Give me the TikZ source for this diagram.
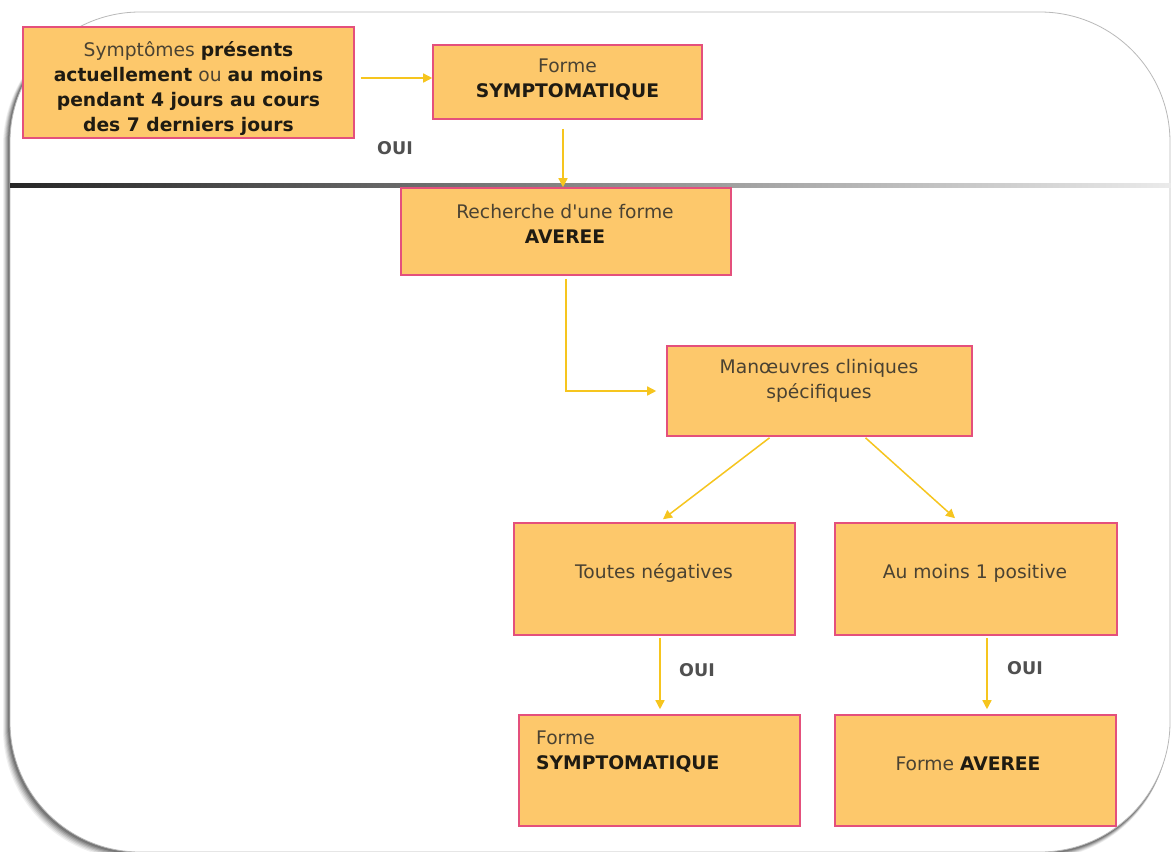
\documentclass[tikz,border=0pt]{standalone}
\usepackage{fontspec}
\setmainfont{DejaVu Sans}
\font\aposf="DejaVu Sans" at 18.7pt
\usetikzlibrary{arrows.meta,calc}
\definecolor{boxfill}{HTML}{FDC86B}
\definecolor{boxline}{HTML}{E4507C}
\definecolor{arrowc}{HTML}{F6C51E}
\definecolor{txt}{HTML}{4A4232}
\definecolor{btxt}{HTML}{1F1B12}
\definecolor{ouic}{HTML}{505050}
\newcommand\bb[1]{\textbf{\color{btxt}#1}}
\tikzset{
  box/.style={draw=boxline, fill=boxfill, line width=1.6pt, inner sep=0pt},
  lbl/.style={text=txt, font=\fontsize{18.7}{25}\selectfont, align=center, inner sep=0pt},
  oui/.style={text=ouic, font=\fontsize{17.5}{20}\selectfont\bfseries, inner sep=0pt},
  arr/.style={draw=arrowc, line width=1.5pt, -{Triangle[length=9pt,width=9pt]}},
}
\begin{document}
\begin{tikzpicture}[x=1pt,y=-1pt]
\useasboundingbox (0,0) rectangle (1171,852);
\clip (0,0) rectangle (1171,852);
\fill[white] (0,0) rectangle (1171,852);
% frame shadow
\foreach \d/\o in {7/0.06,6/0.08,5/0.10,4/0.12,3/0.15,2/0.18}{
  \fill[black, opacity=\o, rounded corners=130pt] ({10-\d},{12+\d*0.6}) rectangle ({1170-\d*0.3},{852+\d});
}
\draw[gray!55, line width=0.8pt, fill=white, rounded corners=130pt] (10,12) rectangle (1170,852);
% divider
\shade[left color=black!85, right color=black!8] (10,183) rectangle (1171,187.5);
% boxes
\node[box, minimum width=331pt, minimum height=111pt] (b1) at (188.5,82.5) {};
\node[box, minimum width=269pt, minimum height=74pt]  (b2) at (567.5,82) {};
\node[box, minimum width=330pt, minimum height=87pt]  (b3) at (566,231.5) {};
\node[box, minimum width=305pt, minimum height=90pt]  (b4) at (819.5,391) {};
\node[box, minimum width=281pt, minimum height=112pt] (b5) at (654.5,579) {};
\node[box, minimum width=282pt, minimum height=112pt] (b6) at (976,579) {};
\node[box, minimum width=281pt, minimum height=111pt] (b7) at (659.5,770.5) {};
\node[box, minimum width=281pt, minimum height=111pt] (b8) at (975.5,770.5) {};
% texts
\node[lbl] (t1) at (188.5,89) {Symptômes \bb{présents}\\ \bb{actuellement} ou \bb{au moins}\\ \bb{pendant 4 jours au cours}\\ \bb{des 7 derniers jours}};
\node[lbl] (t2) at (567.5,80) {Forme\\ \bb{SYMPTOMATIQUE}};
\node[lbl] (t3) at (565,224) {Recherche d{\aposf'}une forme\\ \bb{AVEREE}};
\node[lbl] (t4) at (819,381) {Manœuvres cliniques\\ spécifiques};
\node[lbl] (t5) at (654,573) {Toutes négatives};
\node[lbl] (t6) at (975,573) {Au moins 1 positive};
\node[lbl, align=left, anchor=west] (t7) at (536,751.5) {Forme\\ \bb{SYMPTOMATIQUE}};
\node[lbl] (t8) at (968,764) {Forme \bb{AVEREE}};
% OUI labels
\node[oui] (o1) at (395,148) {OUI};
\node[oui] (o2) at (697,670) {OUI};
\node[oui] (o3) at (1025,668) {OUI};
% connectors
\draw[arr] ([xshift=6pt,yshift=4.5pt]b1.east) -- ([yshift=4.5pt]b1.east -| b2.west);
\draw[arr] ([xshift=-4.5pt,yshift=-9pt]b2.south) -- ([xshift=-4.5pt]b2.south |- b3.north);
\draw[arr] ([yshift=-3pt]b3.south) |- ([xshift=-10pt]b4.west);
\draw[arr] ([xshift=-50pt,yshift=-1pt]b4.south) -- ([xshift=8.5pt,yshift=3pt]b5.north);
\draw[arr] ([xshift=46pt,yshift=-1pt]b4.south) -- ([xshift=-21pt,yshift=4pt]b6.north);
\draw[arr] ([xshift=5.5pt,yshift=-2pt]b5.south) -- ([xshift=5.5pt,yshift=5pt]b5.south |- b7.north);
\draw[arr] ([xshift=11pt,yshift=-2pt]b6.south) -- ([xshift=11pt,yshift=5pt]b6.south |- b8.north);
\end{tikzpicture}
\end{document}
